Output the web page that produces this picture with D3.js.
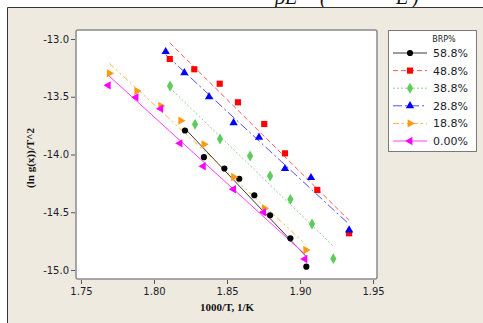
<!DOCTYPE html>
<html>
<head>
<meta charset="utf-8">
<script src="https://cdn.jsdelivr.net/npm/d3@7"></script>
<style>
    body { margin: 0; background: #fff; }
    svg { display: block; }
</style>
</head>
<body>
<svg id="chart" width="483" height="323"></svg>
<script>
// x = 1000/T (1/K), y = (ln g(x))/T^2
var seriesNames = ["58.8%", "48.8%", "38.8%", "28.8%", "18.8%", "0.00%"];

var x588 = [1.8212, 1.8342, 1.8482, 1.8584, 1.8687, 1.8795, 1.8934, 1.9043];
var y588 = [-13.792, -14.023, -14.121, -14.210, -14.353, -14.526, -14.726, -14.971];

var x488 = [1.8108, 1.8276, 1.8450, 1.8575, 1.8755, 1.8897, 1.9118, 1.9336];
var y488 = [-13.173, -13.262, -13.387, -13.548, -13.736, -13.990, -14.307, -14.682];

var x388 = [1.8110, 1.8281, 1.8452, 1.8658, 1.8795, 1.8934, 1.9082, 1.9228];
var y388 = [-13.407, -13.739, -13.866, -14.013, -14.186, -14.388, -14.602, -14.902];

var x288 = [1.8080, 1.8208, 1.8377, 1.8545, 1.8719, 1.8897, 1.9075, 1.9336];
var y288 = [-13.110, -13.292, -13.500, -13.725, -13.851, -14.123, -14.201, -14.654];

var x188 = [1.7694, 1.7882, 1.8046, 1.8183, 1.8342, 1.8545, 1.8755, 1.9039];
var y188 = [-13.297, -13.450, -13.580, -13.707, -13.912, -14.195, -14.466, -14.827];

var x000 = [1.7687, 1.7877, 1.8046, 1.8178, 1.8338, 1.8545, 1.8751, 1.9034];
var y000 = [-13.401, -13.505, -13.603, -13.903, -14.102, -14.301, -14.500, -14.905];

var xTicks = [1.75, 1.80, 1.85, 1.90, 1.95];
var yTicks = [-13.0, -13.5, -14.0, -14.5, -15.0];

var legendTitle = "BRP%";
var xTitle = "1000/T, 1/K";
var yTitle = "(ln g(x))/T^2";

var series = [
    {name: seriesNames[0], xs: x588, ys: y588, mark: "#000000", line: "#3a3a3a", dash: null, sym: d3.symbolCircle, size: 30, rot: 0},
    {name: seriesNames[1], xs: x488, ys: y488, mark: "#ff0000", line: "#ff5a5a", dash: "5,3", sym: d3.symbolSquare, size: 38, rot: 0},
    {name: seriesNames[2], xs: x388, ys: y388, mark: "#5ccc5c", line: "#8ad88a", dash: "2,2", sym: d3.symbolDiamond, size: 34, rot: 0},
    {name: seriesNames[3], xs: x288, ys: y288, mark: "#0000ff", line: "#5050ff", dash: "9,3,2,3", sym: d3.symbolTriangle, size: 30, rot: 0},
    {name: seriesNames[4], xs: x188, ys: y188, mark: "#ff9a10", line: "#ffb44a", dash: "6,3,2,3,2,3", sym: d3.symbolTriangle, size: 30, rot: 90},
    {name: seriesNames[5], xs: x000, ys: y000, mark: "#ff00ff", line: "#ff40ff", dash: null, sym: d3.symbolTriangle, size: 30, rot: -90}
];

var svg = d3.select("#chart");
var serif = "'Liberation Serif', 'DejaVu Serif', serif";
var sans = "'DejaVu Sans', Verdana, sans-serif";

// cut-off fragment of the page above the figure
var topBits = [{t: "βE", x: 275}, {t: "(", x: 320}, {t: "E", x: 396}, {t: ")", x: 412}];
svg.selectAll(".topbit")
    .data(topBits)
    .enter().append("text")
    .attr("x", function (d) { return d.x; })
    .attr("y", 4)
    .style("font", "italic 20px " + serif)
    .attr("fill", "#111")
    .text(function (d) { return d.t; });

// figure background
svg.append("rect")
    .attr("x", 8).attr("y", 8)
    .attr("width", 475).attr("height", 315)
    .attr("fill", "#eeeae0");
svg.append("path")
    .attr("d", "M7.5,323V7.5H483")
    .attr("fill", "none")
    .attr("stroke", "#333")
    .attr("stroke-width", 1);

var plot = {left: 76, right: 377, top: 30, bottom: 279};

var x = d3.scaleLinear()
    .domain([1.7466, 1.9527])
    .range([plot.left, plot.right]);

var y = d3.scaleLinear()
    .domain([-15.078, -12.922])
    .range([plot.bottom, plot.top]);

svg.append("rect")
    .attr("x", plot.left).attr("y", plot.top)
    .attr("width", plot.right - plot.left)
    .attr("height", plot.bottom - plot.top)
    .attr("rx", 2)
    .attr("fill", "#ffffff")
    .attr("stroke", "#8a8a8a")
    .attr("stroke-width", 1.5);

// plain hyphen for negatives, as in the original
var yFmt = function (d) { return d3.format(".1f")(d).replace("\u2212", "-"); };

var xAxis = svg.append("g")
    .attr("transform", "translate(0," + (plot.bottom + 1) + ")")
    .call(d3.axisBottom(x).tickValues(xTicks).tickFormat(d3.format(".2f")).tickSize(4).tickPadding(4));

var yAxis = svg.append("g")
    .attr("transform", "translate(" + (plot.left - 1) + ",0)")
    .call(d3.axisLeft(y).tickValues(yTicks).tickFormat(yFmt).tickSize(4).tickPadding(2));

[xAxis, yAxis].forEach(function (a) {
    a.select(".domain").remove();
    a.selectAll(".tick line").attr("stroke", "#555");
    a.selectAll(".tick text")
        .style("font", "10px " + sans)
        .attr("fill", "#1c1c2c");
});

// axis titles
svg.append("text")
    .attr("x", 227).attr("y", 311)
    .attr("text-anchor", "middle")
    .style("font", "bold 11px " + serif)
    .attr("fill", "#111")
    .text(xTitle);

svg.append("text")
    .attr("transform", "translate(34,158) rotate(-90)")
    .attr("text-anchor", "middle")
    .style("font", "bold 11px " + serif)
    .attr("fill", "#111")
    .text(yTitle);

// least squares line for each series
var fitLine = function (xs, ys) {
    var mx = d3.mean(xs), my = d3.mean(ys), sxy = 0, sxx = 0;
    for (var i = 0; i < xs.length; i++) {
        sxy += (xs[i] - mx) * (ys[i] - my);
        sxx += (xs[i] - mx) * (xs[i] - mx);
    }
    var b = sxy / sxx;
    var x0 = d3.min(xs), x1 = d3.max(xs);
    return [[x0, my + b * (x0 - mx)], [x1, my + b * (x1 - mx)]];
};

var line = d3.line()
    .x(function (d) { return x(d[0]); })
    .y(function (d) { return y(d[1]); });

var g = svg.append("g");

series.forEach(function (s) {
    g.append("path")
        .datum(fitLine(s.xs, s.ys))
        .attr("fill", "none")
        .attr("stroke", s.line)
        .attr("stroke-width", 1)
        .attr("stroke-dasharray", s.dash)
        .attr("d", line);
});

series.forEach(function (s) {
    var pts = s.xs.map(function (v, i) { return [v, s.ys[i]]; });
    g.selectAll(null)
        .data(pts)
        .enter().append("path")
        .attr("transform", function (d) {
            return "translate(" + x(d[0]) + "," + y(d[1]) + ") rotate(" + s.rot + ")";
        })
        .attr("d", d3.symbol().type(s.sym).size(s.size))
        .attr("fill", s.mark);
});

// legend
var leg = svg.append("g");
leg.append("rect")
    .attr("x", 388.5).attr("y", 30.5)
    .attr("width", 88).attr("height", 121)
    .attr("fill", "#ffffff")
    .attr("stroke", "#7a7a7a")
    .attr("stroke-width", 1);

leg.append("text")
    .attr("x", 444).attr("y", 42)
    .attr("text-anchor", "middle")
    .style("font", "8px " + sans)
    .attr("fill", "#1c1c2c")
    .text(legendTitle);

var rowY = d3.scaleLinear().domain([0, 5]).range([53, 141]);

series.forEach(function (s, i) {
    var cy = rowY(i);
    leg.append("line")
        .attr("x1", 393).attr("x2", 427)
        .attr("y1", cy).attr("y2", cy)
        .attr("stroke", s.line)
        .attr("stroke-width", 1)
        .attr("stroke-dasharray", s.dash);
    leg.append("path")
        .attr("transform", "translate(410," + cy + ") rotate(" + s.rot + ")")
        .attr("d", d3.symbol().type(s.sym).size(s.size))
        .attr("fill", s.mark);
    leg.append("text")
        .attr("x", 433).attr("y", cy + 4)
        .style("font", "11px " + sans)
        .attr("fill", "#1c1c2c")
        .text(s.name);
});
</script>
</body>
</html>
